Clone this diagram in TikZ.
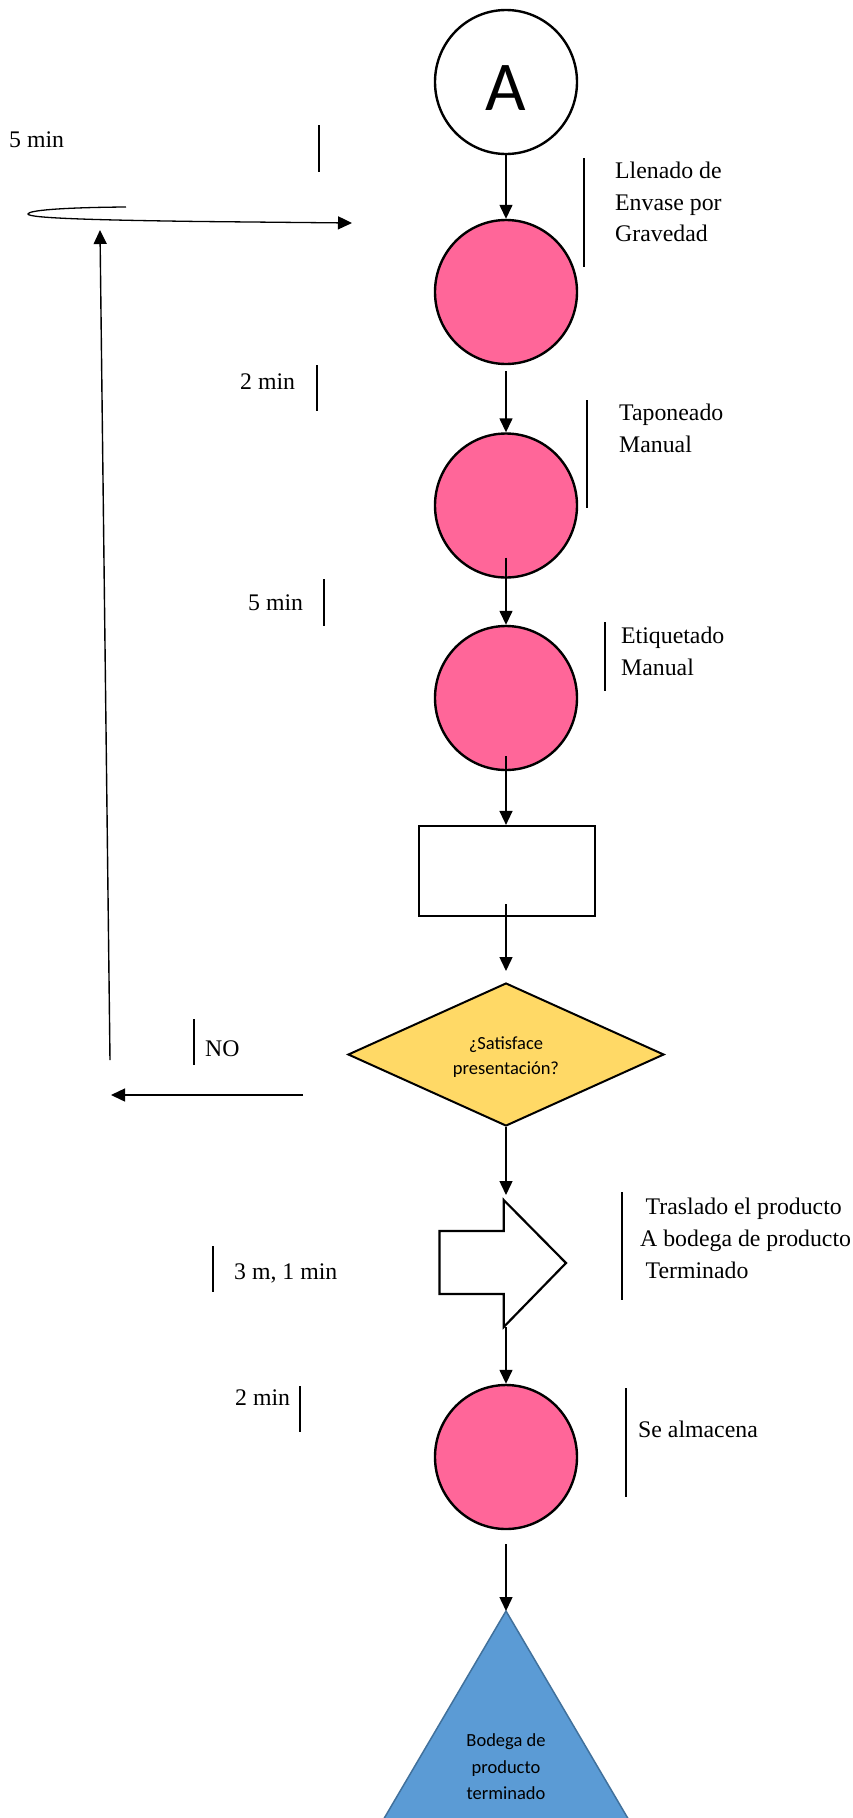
\documentclass[tikz,border=0pt]{standalone}
\usepackage{fontspec}
\setmainfont{Liberation Serif}
\newfontfamily\calfont{Carlito}
\usetikzlibrary{shapes.geometric,arrows.meta}
\definecolor{pinkfill}{HTML}{FF6699}
\definecolor{yelfill}{HTML}{FFD966}
\definecolor{bluefill}{HTML}{5B9BD5}
\definecolor{blueline}{HTML}{41719C}
\begin{document}
\begin{tikzpicture}[x=1pt,y=-1pt,
  proc/.style={ellipse, draw, line width=2.4pt, fill=pinkfill, minimum width=142pt, minimum height=144pt, inner sep=0pt},
  arr/.style={-{Triangle[length=14pt,width=13pt]}, line width=1.4pt},
  tick/.style={line width=1.2pt},
  lbl/.style={anchor=base west, inner sep=0pt, font=\rmfamily\fontsize{23.8}{28}\selectfont},
  cal/.style={anchor=base, inner sep=0pt, font=\calfont\fontsize{18.5}{22}\selectfont}]
\useasboundingbox (0,0) rectangle (853,1818);
\clip (0,0) rectangle (853,1818);

% triangle (storage)
\coordinate (tri) at (506,1611);
\path[fill=bluefill, draw=blueline, line width=1.5pt] (tri) -- (365.5,1850) -- (646.5,1850) -- cycle;
\node[cal] (T1) at (506,1746) {Bodega de};
\node[cal] (T2) at (506,1773) {producto};
\node[cal] (T3) at (506,1799) {terminado};

% shapes
\node[ellipse, draw, line width=2.4pt, fill=white, minimum width=142pt, minimum height=144pt, inner sep=0pt] (A) at (506,82) {};
\node[anchor=base, inner sep=0pt, font=\calfont\fontsize{70}{70}\selectfont] (Atxt) at (506,110) {A};
\node[proc] (c1) at (506,292) {};
\node[proc] (c2) at (506,505.5) {};
\node[proc] (c3) at (506,698) {};
\node[draw, line width=2.2pt, minimum width=176pt, minimum height=90pt, inner sep=0pt] (R) at (507,871) {};
\node[diamond, draw, fill=yelfill, line width=2pt, minimum width=316pt, minimum height=143pt, inner sep=0pt] (D) at (506,1054.5) {};
\node[cal] (D1) at (506,1049) {¿Satisface};
\node[cal] (D2) at (506,1074) {presentación?};
\draw[line width=2.2pt, fill=white] (439.5,1231) -- (503.7,1231) -- (503.7,1200) -- (566,1263) -- (503.7,1327) -- (503.7,1294) -- (439.5,1294) -- cycle;
\coordinate (BAt) at (506,1200);
\coordinate (BAb) at (506,1327);
\node[proc] (c4) at (506,1457) {};

% main flow arrows
\draw[arr] (A.south) -- (c1.north);
\draw[arr] ([yshift=-6pt]c1.south) -- (c2.north);
\draw[arr] ([yshift=21pt]c2.south) -- (c3.north);
\draw[arr] ([yshift=15pt]c3.south) -- (c3.south |- R.north);
\draw[arr] ([yshift=13pt]c3.south |- R.south) -- ([yshift=11pt]D.north);
\draw[arr] (D.south) -- ([yshift=5pt]BAt);
\draw[arr] (BAb) -- (c4.north);
\draw[arr] ([yshift=-14pt]c4.south) -- (tri);

% return loop
\coordinate (N0) at (303,1095);
\coordinate (N1) at (111,1095);
\draw[arr] (N0) -- (N1);
\coordinate (U0) at (110,1060);
\coordinate (U1) at (100,230);
\draw[arr] (U0) -- (U1);
\coordinate (L0) at (126,207);
\coordinate (L1) at (352,223);
\draw[arr, line width=1.3pt] (L0) .. controls (60,207.5) and (28,210.5) .. (28,214) .. controls (28,218) and (90,220) .. (200,221.5) -- (L1);

% labels and ticks
\node[lbl] (t5a) at (9,147) {5 min};
\draw[tick] (319,125) -- (319,172);
\node[lbl] (l1a) at (615,178) {Llenado de};
\node[lbl] (l1b) at (615,210) {Envase por};
\node[lbl] (l1c) at (615,241) {Gravedad};
\draw[tick] (584,158) -- (584,267);

\node[lbl] (t2a) at (240,389) {2 min};
\draw[tick] (317,365) -- (317,411);
\node[lbl] (l2a) at (619,420) {Taponeado};
\node[lbl] (l2b) at (619,452) {Manual};
\draw[tick] (587,400) -- (587,508);

\node[lbl] (t5b) at (248,610) {5 min};
\draw[tick] (324,579) -- (324,626);
\node[lbl] (l3a) at (621,643) {Etiquetado};
\node[lbl] (l3b) at (621,675) {Manual};
\draw[tick] (605,622) -- (605,691);

\node[lbl] (no) at (205,1056) {NO};
\draw[tick] (194,1019) -- (194,1065);

\node[lbl] (t3m) at (234,1279) {3 m, 1 min};
\draw[tick] (213,1246) -- (213,1292);
\node[lbl] (l4a) at (645.5,1214) {Traslado el producto};
\node[lbl] (l4b) at (640,1246) {A bodega de producto};
\node[lbl] (l4c) at (645.5,1278) {Terminado};
\draw[tick] (622,1192) -- (622,1300);

\node[lbl] (t2b) at (235,1405) {2 min};
\draw[tick] (300,1386) -- (300,1432);
\node[lbl] (l5a) at (638,1437) {Se almacena};
\draw[tick] (626,1388) -- (626,1497);
\end{tikzpicture}
\end{document}
